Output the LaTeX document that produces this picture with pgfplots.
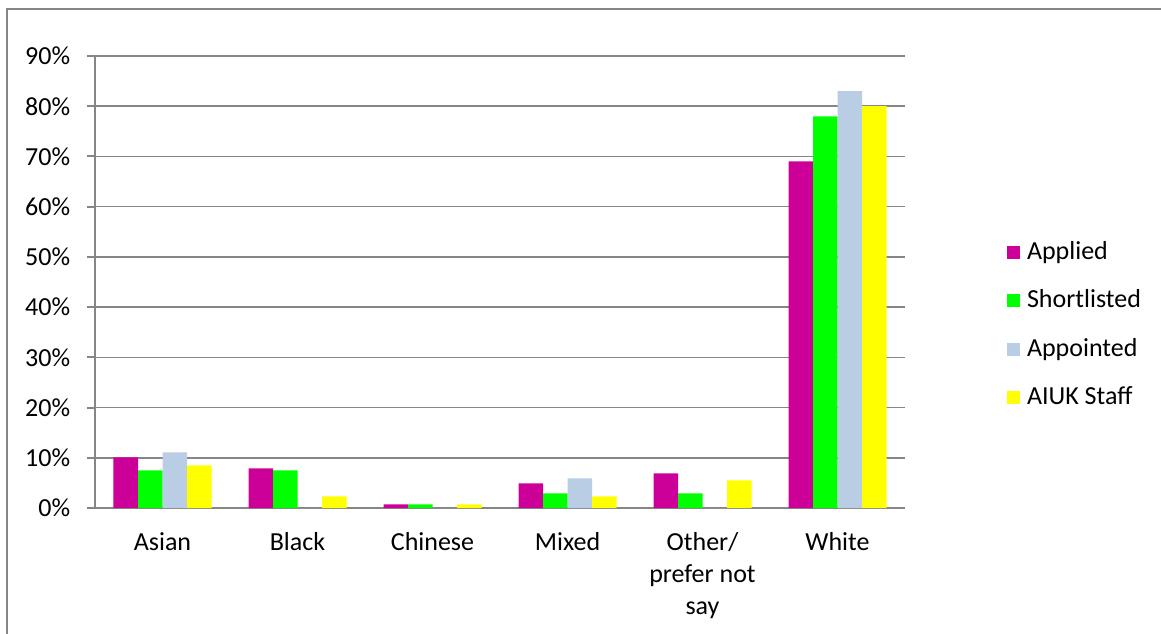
\documentclass[border=0pt]{standalone}
\usepackage{fontspec}
\setmainfont{Carlito}
\usepackage{pgfplots}
\pgfplotsset{compat=1.18}

\definecolor{cApplied}{HTML}{CC0099}
\definecolor{cShort}{HTML}{00FF00}
\definecolor{cAppointed}{HTML}{B9CDE5}
\definecolor{cStaff}{HTML}{FFFF00}
\definecolor{frame}{HTML}{868686}

\begin{document}
\fontsize{26}{32}\selectfont
\begin{tikzpicture}
\path[use as bounding box] (0,0) rectangle (1161pt,633pt);
\draw[frame, line width=2.5pt] (7pt,-30pt) rectangle (1200pt,624pt);
\begin{axis}[
  at={(95pt,125pt)}, anchor=south west,
  scale only axis, width=810pt, height=452pt,
  ybar=0pt, bar width=24.5pt,
  xmin=-0.5, xmax=5.5, ymin=0, ymax=90,
  axis x line*=bottom, axis y line*=left,
  axis line style={frame, line width=2pt},
  every axis plot post/.append style={draw=none,
    legend image code/.code={\fill[##1] (0pt,-6.5pt) rectangle (13pt,6.5pt);}},
  xtick={0,...,5},
  xticklabels={Asian, Black, Chinese, Mixed, {Other/\\prefer not\\say}, White},
  xticklabel style={align=center, yshift=-8pt},
  x tick style={draw=none},
  extra x ticks={-0.5,0.5,1.5,2.5,3.5,4.5,5.5},
  extra x tick labels={},
  extra x tick style={tick style={draw=frame, line width=2pt}, major tick length=8pt, tick align=outside},
  ytick={0,10,...,90},
  yticklabel={\pgfmathprintnumber{\tick}\%},
  y tick style={draw=frame, line width=2pt},
  major tick length=8pt, tick align=outside,
  yticklabel style={xshift=-8pt},
  /pgf/number format/assume math mode=true,
  ymajorgrids, grid style={frame, line width=1.6pt},
  tick label style={font=\fontsize{26}{32}\selectfont, text=black},
  legend style={at={(1.122,0.405)}, anchor=west, draw=none, fill=none,
    font=\fontsize{26}{32}\selectfont, row sep=22.5pt, column sep=5pt,
    legend cell align=left},
]
\addplot[fill=cApplied] coordinates {(0,10.1) (1,7.9) (2,0.7) (3,4.9) (4,6.9) (5,69)};
\addplot[fill=cShort] coordinates {(0,7.5) (1,7.5) (2,0.7) (3,2.9) (4,2.9) (5,78)};
\addplot[fill=cAppointed] coordinates {(0,11.1) (1,0) (2,0) (3,5.9) (4,0) (5,83)};
\addplot[fill=cStaff] coordinates {(0,8.5) (1,2.3) (2,0.7) (3,2.3) (4,5.5) (5,80)};
\legend{Applied, Shortlisted, Appointed, AIUK Staff}
\end{axis}
\end{tikzpicture}
\end{document}
